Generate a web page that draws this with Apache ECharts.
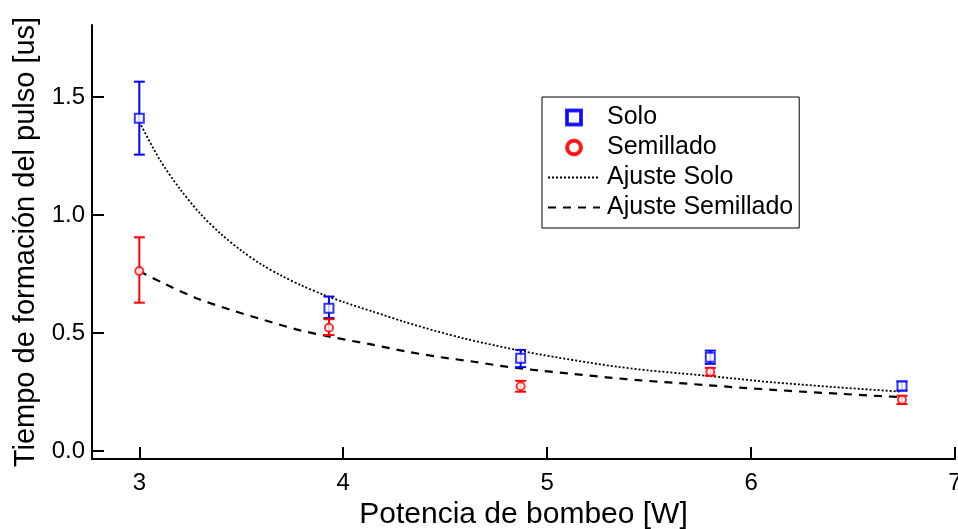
<!DOCTYPE html>
<html>
<head>
<meta charset="utf-8">
<script src="https://cdn.jsdelivr.net/npm/echarts@6/dist/echarts.min.js"></script>
<style>
  html, body { margin: 0; padding: 0; background: #fff; }
  #chart { width: 958px; height: 529px; }
</style>
</head>
<body>
<div id="chart"></div>
<script>
// ---- Data ----
const powerW = [3.00, 3.93, 4.87, 5.80, 6.74];
const soloY = [1.410, 0.605, 0.394, 0.398, 0.276];
const soloLo = [1.256, 0.564, 0.356, 0.370, 0.257];
const soloHi = [1.565, 0.655, 0.429, 0.426, 0.295];
const semY = [0.763, 0.523, 0.275, 0.336, 0.218];
const semLo = [0.629, 0.492, 0.252, 0.320, 0.200];
const semHi = [0.906, 0.559, 0.298, 0.353, 0.235];

const fitSoloX = [3.00, 3.10, 3.20, 3.30, 3.40, 3.50, 3.60, 3.70, 3.80, 3.90, 4.00, 4.15, 4.30, 4.45, 4.60, 4.75, 4.90, 5.05, 5.20, 5.35, 5.50, 5.65, 5.80, 5.95, 6.10, 6.25, 6.40, 6.55, 6.74];
const fitSoloY = [1.395, 1.235, 1.110, 1.005, 0.920, 0.850, 0.790, 0.742, 0.700, 0.664, 0.632, 0.590, 0.548, 0.510, 0.476, 0.447, 0.420, 0.397, 0.376, 0.357, 0.342, 0.330, 0.318, 0.305, 0.292, 0.282, 0.272, 0.263, 0.252];
const fitSemX = [3.00, 3.12, 3.28, 3.45, 3.61, 3.77, 3.94, 4.15, 4.31, 4.48, 4.64, 4.80, 4.97, 5.13, 5.29, 5.46, 5.62, 5.78, 5.95, 6.11, 6.27, 6.44, 6.60, 6.74];
const fitSemY = [0.762, 0.711, 0.648, 0.598, 0.556, 0.516, 0.484, 0.450, 0.422, 0.398, 0.379, 0.358, 0.341, 0.327, 0.313, 0.300, 0.290, 0.280, 0.269, 0.260, 0.251, 0.243, 0.235, 0.229];

const xTicks = [3, 4, 5, 6, 7];
const yTicks = [0, 0.5, 1.0, 1.5];
const seriesNames = ['Solo', 'Semillado', 'Ajuste Solo', 'Ajuste Semillado'];
const xTitle = 'Potencia de bombeo [W]';
const yTitle = 'Tiempo de formación del pulso [us]';

// ---- Build ----
const FONT = '"Liberation Sans", Arial, sans-serif';
const zip = (a, b) => a.map((v, i) => [v, b[i]]);
const errData = (lo, hi) => powerW.map((x, i) => [x, lo[i], hi[i]]);

function errorBar(color) {
  return function (params, api) {
    const x = api.value(0);
    const lo = api.coord([x, api.value(1)]);
    const hi = api.coord([x, api.value(2)]);
    const hw = 5.5;
    const style = { stroke: color, lineWidth: 2 };
    return {
      type: 'group',
      children: [
        { type: 'line', shape: { x1: lo[0], y1: lo[1], x2: hi[0], y2: hi[1] }, style },
        { type: 'line', shape: { x1: lo[0] - hw, y1: lo[1], x2: lo[0] + hw, y2: lo[1] }, style },
        { type: 'line', shape: { x1: hi[0] - hw, y1: hi[1], x2: hi[0] + hw, y2: hi[1] }, style }
      ]
    };
  };
}

const squareIcon = 'path://M0,0L16,0L16,16L0,16Z M2,2L2,14L14,14L14,2Z';
const ringIcon = 'path://M8,0A8,8,0,1,1,8,16A8,8,0,1,1,8,0Z M8,2.2A5.8,5.8,0,1,0,8,13.8A5.8,5.8,0,1,0,8,2.2Z';

const chart = echarts.init(document.getElementById('chart'), null, { renderer: 'canvas' });
chart.setOption({
  animation: false,
  backgroundColor: '#fff',
  textStyle: { fontFamily: FONT },
  grid: { left: 92, right: 3, top: 25, bottom: 70, containLabel: false, outerBoundsMode: 'none' },
  legend: {
    orient: 'vertical',
    left: 542, top: 97,
    data: [
      { name: seriesNames[0], icon: squareIcon },
      { name: seriesNames[1], icon: ringIcon },
      { name: seriesNames[2], itemStyle: { opacity: 0 } },
      { name: seriesNames[3], itemStyle: { opacity: 0 } }
    ],
    symbolKeepAspect: true,
    backgroundColor: '#fff',
    borderColor: '#000', borderWidth: 1, borderRadius: 0,
    padding: [8, 6, 8, 5],
    itemGap: 5,
    itemWidth: 52, itemHeight: 16,
    textStyle: { fontFamily: FONT, fontSize: 25, color: '#000', lineHeight: 25, padding: [0, 0, 0, 2] }
  },
  xAxis: {
    type: 'value', min: 2.768, max: 7,
    name: xTitle, nameLocation: 'middle', nameGap: 39,
    nameTextStyle: { fontFamily: FONT, fontSize: 30, color: '#000' },
    axisLine: { show: true, onZero: false, lineStyle: { color: '#000', width: 2 } },
    axisTick: { show: true, inside: true, length: 12, lineStyle: { color: '#000', width: 2 }, customValues: xTicks },
    axisLabel: { fontFamily: FONT, fontSize: 24, color: '#000', margin: 12, customValues: xTicks, showMinLabel: true, showMaxLabel: true },
    splitLine: { show: false }
  },
  yAxis: {
    type: 'value', min: -0.033, max: 1.805,
    name: yTitle, nameLocation: 'middle', nameRotate: 90, nameGap: 45,
    nameTextStyle: { fontFamily: FONT, fontSize: 29, color: '#000' },
    axisLine: { show: true, onZero: false, lineStyle: { color: '#000', width: 2 } },
    axisTick: { show: true, inside: true, length: 12, lineStyle: { color: '#000', width: 2 }, customValues: yTicks },
    axisLabel: { fontFamily: FONT, fontSize: 24, color: '#000', margin: 7, customValues: yTicks, formatter: v => v.toFixed(1) },
    splitLine: { show: false }
  },
  series: [
    {
      name: 'Ajuste Solo', type: 'line', data: zip(fitSoloX, fitSoloY),
      smooth: 0.3, symbol: 'none', showSymbol: false, z: 2,
      lineStyle: { color: '#000', width: 1.8, type: [2, 2] }, itemStyle: { color: '#000' }
    },
    {
      name: 'Ajuste Semillado', type: 'line', data: zip(fitSemX, fitSemY),
      smooth: 0.3, symbol: 'none', showSymbol: false, z: 2,
      lineStyle: { color: '#000', width: 2.2, type: [8, 7] }, itemStyle: { color: '#000' }
    },
    {
      name: 'Solo-err', type: 'custom', data: errData(soloLo, soloHi),
      renderItem: errorBar('#0000ff'), encode: { x: 0, y: [1, 2] }, z: 3, silent: true
    },
    {
      name: 'Semillado-err', type: 'custom', data: errData(semLo, semHi),
      renderItem: errorBar('#ff0000'), encode: { x: 0, y: [1, 2] }, z: 3, silent: true
    },
    {
      name: 'Solo', type: 'scatter', data: zip(powerW, soloY),
      symbol: 'emptyRect', symbolSize: 9, z: 4,
      itemStyle: { color: '#0000ff', borderColor: '#0000ff', borderWidth: 2 }
    },
    {
      name: 'Semillado', type: 'scatter', data: zip(powerW, semY),
      symbol: 'emptyCircle', symbolSize: 8, z: 4,
      itemStyle: { color: '#ff0000', borderColor: '#ff0000', borderWidth: 2 }
    }
  ]
});
</script>
</body>
</html>
